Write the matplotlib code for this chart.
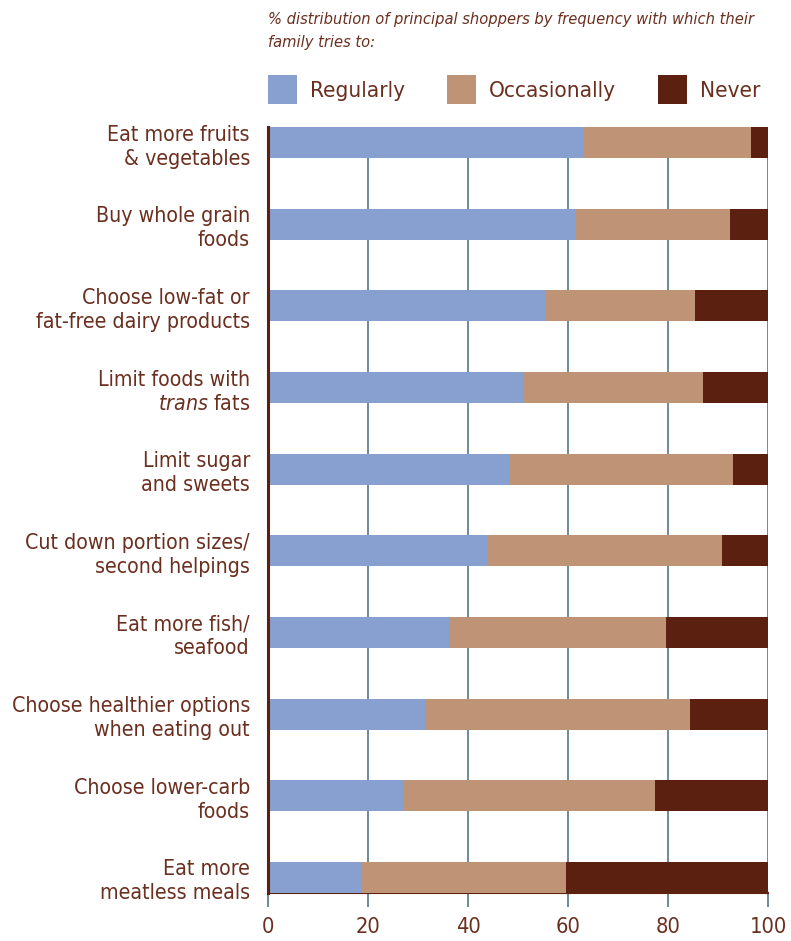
import matplotlib
matplotlib.use("Agg")
import matplotlib.pyplot as plt
from matplotlib import font_manager
from matplotlib.patches import Patch

# ------------------------------------------------------------------------
# Data

labels = [
    "Eat more fruits\n& vegetables",
    "Buy whole grain\nfoods",
    "Choose low-fat or\nfat-free dairy products",
    "Limit foods with\n$\\it{trans}$ fats",
    "Limit sugar\nand sweets",
    "Cut down portion sizes/\nsecond helpings",
    "Eat more fish/\nseafood",
    "Choose healthier options\nwhen eating out",
    "Choose lower-carb\nfoods",
    "Eat more\nmeatless meals",
]
regularly = [63.0, 61.5, 55.5, 51.1, 48.2, 43.7, 36.2, 31.3, 26.9, 18.5]
occasionally = [33.5, 30.8, 29.9, 35.9, 44.7, 47.0, 43.3, 53.1, 50.4, 41.1]
never = [3.5, 7.7, 14.6, 13.0, 7.1, 9.3, 20.5, 15.6, 22.7, 40.4]

series_names = ["Regularly", "Occasionally", "Never"]
xticks = [0, 20, 40, 60, 80, 100]
title = "% distribution of principal shoppers by frequency with which their\nfamily tries to:"

# ------------------------------------------------------------------------
# Style: look for a narrow face, else condensed DejaVu

installed = {f.name for f in font_manager.fontManager.ttflist}
condensed = [f for f in font_manager.fontManager.ttflist
             if f.name == 'DejaVu Sans' and 'ondensed' in str(f.stretch)]
if 'Liberation Sans Narrow' in installed:
    fam, stretch, scale = 'Liberation Sans Narrow', 'normal', 1.0
elif condensed:
    fam, stretch, scale = 'DejaVu Sans', 'condensed', 0.92
else:
    fam, stretch, scale = 'DejaVu Sans', 'normal', 0.8

plt.rcParams['font.family'] = [fam, 'DejaVu Sans']
plt.rcParams['font.stretch'] = stretch
plt.rcParams['mathtext.fontset'] = 'custom'
plt.rcParams['mathtext.rm'] = fam
plt.rcParams['mathtext.it'] = fam + ':italic'

txt = '#6b2f1f'
colors = ['#87a0cf', '#bf9375', '#5c2010']
gridc = '#6e8a96'

# ------------------------------------------------------------------------
# Plotting

fig = plt.figure(figsize=(7.91, 9.41), dpi=100)
ax = fig.add_axes([268/791, 48/941, 500/791, 766/941])

ypos = list(range(len(labels)))
h = 0.38
left = [0]*len(labels)
for vals, c, name in zip([regularly, occasionally, never], colors, series_names):
    ax.barh(ypos, vals, left=left, height=h, color=c, zorder=3, label=name)
    left = [a + b for a, b in zip(left, vals)]

ax.set_xlim(0, 100)
ax.set_ylim(len(labels) - 1 + h/2, -h/2)
ax.set_xticks(xticks)
ax.set_xticklabels([str(t) for t in xticks], fontsize=17*scale, color=txt)
ax.set_yticks(ypos)
ax.set_yticklabels(labels, fontsize=16.6*scale, color=txt, linespacing=1.25)
ax.tick_params(axis='y', length=0, pad=13)
ax.tick_params(axis='x', length=10, width=1.4, color=gridc, pad=7)

ax.xaxis.grid(True, color=gridc, linewidth=1.4, zorder=0)
ax.set_axisbelow(True)
for s in ['top', 'right']:
    ax.spines[s].set_visible(False)
ax.spines['left'].set_color('#5c2010')
ax.spines['left'].set_linewidth(2.2)
ax.spines['left'].set_zorder(4)
ax.spines['bottom'].set_color('#5c2010')
ax.spines['bottom'].set_linewidth(1.5)

handles = [Patch(facecolor=c, edgecolor='none') for c in colors]
leg = ax.legend(handles, series_names, loc='lower left',
                bbox_to_anchor=(0.0, 1.03), ncol=3, frameon=False,
                fontsize=17.5*scale, handlelength=1.3, handleheight=1.6,
                handletextpad=0.6, columnspacing=1.85, borderaxespad=0,
                borderpad=0)
for t in leg.get_texts():
    t.set_color(txt)

fig.text(268/791, 1 - 12/941, title, ha='left', va='top', fontsize=12.8*scale,
         style='italic', color=txt, linespacing=1.65)

fig.savefig("out.png", dpi=100)
